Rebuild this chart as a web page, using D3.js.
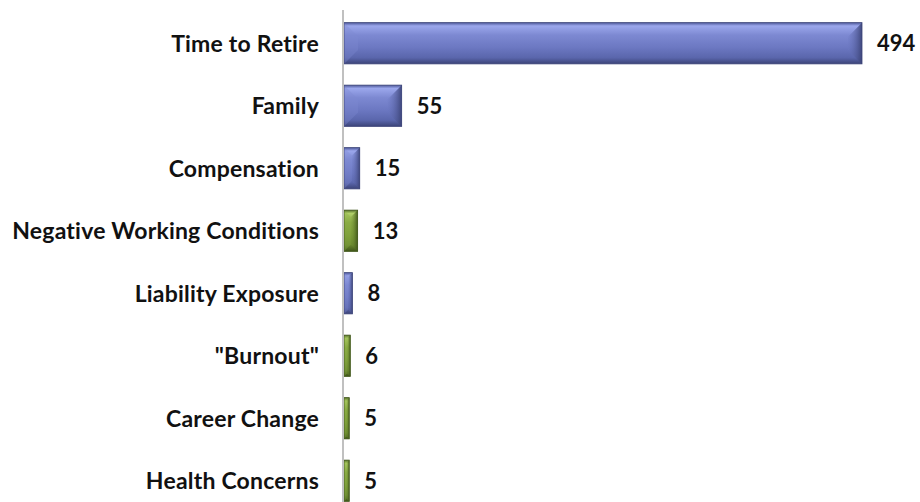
<!DOCTYPE html>
<html>
<head>
<meta charset="utf-8">
<script src="https://cdn.jsdelivr.net/npm/d3@7"></script>
<style>
  body { margin: 0; background: #fff; }
  text { font-family: Lato, "Open Sans", sans-serif; font-weight: bold; fill: #111; font-variant-ligatures: none; }
</style>
</head>
<body>
<div id="chart"></div>
<script>
// reasons for leaving, counts
var categories = ["Time to Retire", "Family", "Compensation", "Negative Working Conditions",
                  "Liability Exposure", "\"Burnout\"", "Career Change", "Health Concerns"];
var counts = [494, 55, 15, 13, 8, 6, 5, 5];
var groups = ["blue", "blue", "blue", "green", "blue", "green", "green", "green"];

var width = 920, height = 502;
var axisX = 344;

var svg = d3.select("#chart").append("svg")
    .attr("width", width)
    .attr("height", height);

var x = d3.scaleLinear().domain([0, 494]).range([axisX, 862]);
var y = d3.scaleBand().domain(categories).range([12, 512]).paddingInner(0.34).paddingOuter(0.17);

// gradients for the bevelled look
var defs = svg.append("defs");
var palettes = {
    blue:  ["#4d5899", "#9ba7ec", "#7d89d2", "#6c78c2", "#5a66ac", "#3c4478"],
    green: ["#55702a", "#b0cf68", "#8aab44", "#7b9b38", "#67852c", "#3f5519"]
};
Object.keys(palettes).forEach(function(k){
    var c = palettes[k];
    var g = defs.append("linearGradient").attr("id", "grad_" + k)
        .attr("x1", 0).attr("y1", 0).attr("x2", 0).attr("y2", 1);
    [[0, c[0]], [0.08, c[1]], [0.3, c[2]], [0.6, c[3]], [0.85, c[4]], [1, c[5]]].forEach(function(s){
        g.append("stop").attr("offset", s[0]).attr("stop-color", s[1]);
    });
    //horizontal shading for the right end
    var e = defs.append("linearGradient").attr("id", "end_" + k)
        .attr("x1", 0).attr("y1", 0).attr("x2", 1).attr("y2", 0);
    e.append("stop").attr("offset", 0).attr("stop-color", c[3]).attr("stop-opacity", 0.2);
    e.append("stop").attr("offset", 1).attr("stop-color", c[5]).attr("stop-opacity", 0.95);
});

var bars = svg.selectAll(".bar")
    .data(categories)
    .enter().append("g")
    .attr("class", "bar")
    .attr("transform", function(d){ return "translate(" + axisX + "," + y(d) + ")"; });

bars.each(function(d, i){
    var g = d3.select(this);
    var w = x(counts[i]) - axisX, h = y.bandwidth();
    var b = Math.min(14, w / 2);
    var c = palettes[groups[i]];
    g.append("rect")
        .attr("width", w).attr("height", h)
        .attr("fill", "url(#grad_" + groups[i] + ")");
    // right end bevel
    g.append("path")
        .attr("d", "M" + w + ",0L" + (w - b) + "," + b + "L" + (w - b) + "," + (h - b) + "L" + w + "," + h + "Z")
        .attr("fill", "url(#end_" + groups[i] + ")");
    // left end bevel
    g.append("path")
        .attr("d", "M0,0L" + b + "," + b + "L" + b + "," + (h - b) + "L0," + h + "Z")
        .attr("fill", c[2]).attr("opacity", 0.35);
    g.append("rect")
        .attr("width", w).attr("height", h)
        .attr("fill", "none").attr("stroke", c[5]).attr("stroke-width", 0.8);
});

// value labels
svg.selectAll(".val")
    .data(categories)
    .enter().append("text")
    .attr("class", "val")
    .attr("x", function(d, i){ return x(counts[i]) + 15; })
    .attr("y", function(d){ return y(d) + y.bandwidth() / 2; })
    .attr("dy", "0.36em")
    .style("font-size", "22px")
    .text(function(d, i){ return counts[i]; });

// category labels
svg.selectAll(".cat")
    .data(categories)
    .enter().append("text")
    .attr("class", "cat")
    .attr("x", 319)
    .attr("y", function(d){ return y(d) + y.bandwidth() / 2; })
    .attr("dy", "0.36em")
    .attr("text-anchor", "end")
    .style("font-size", "23px")
    .style("letter-spacing", "0.2px")
    .text(function(d){ return d; });

// axis line
svg.append("line")
    .attr("x1", axisX - 1).attr("x2", axisX - 1)
    .attr("y1", 10).attr("y2", height)
    .attr("stroke", "#c0c0c0").attr("stroke-width", 2);
</script>
</body>
</html>
